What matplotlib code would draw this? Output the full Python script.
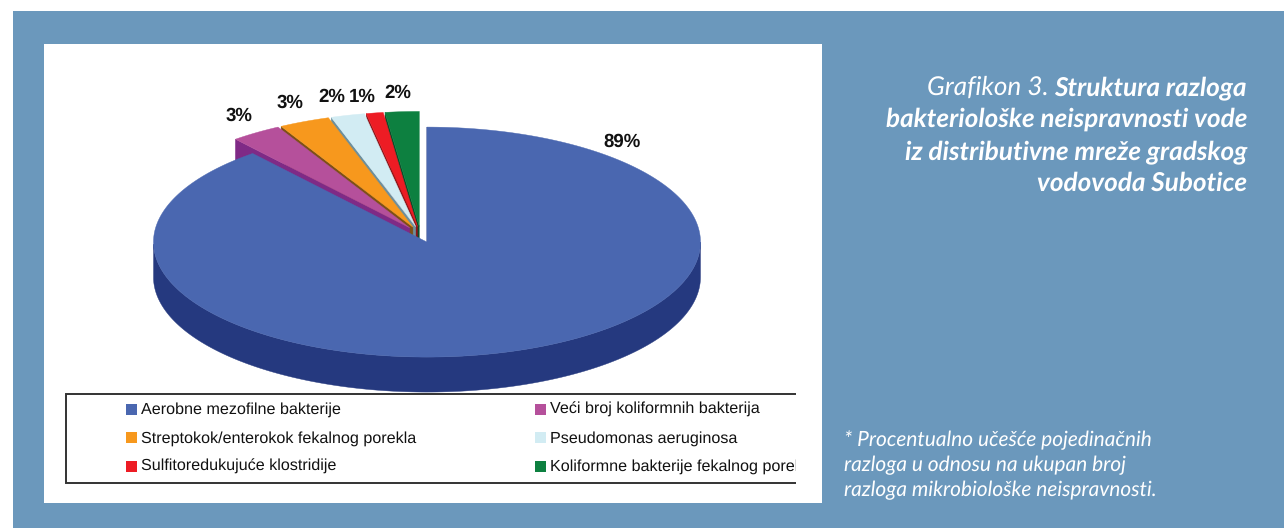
import numpy as np
from matplotlib import pyplot as plt
from matplotlib.patches import Rectangle, Polygon

plt.rcParams['font.family'] = ['Liberation Sans', 'DejaVu Sans']
plt.rcParams['text.hinting'] = 'none'

pct_labels = ['89%', '3%', '3%', '2%', '1%', '2%']
values = [89, 3, 3, 2, 1, 2]
categories = [
    'Aerobne mezofilne bakterije',
    'Veći broj koliformnih bakterija',
    'Streptokok/enterokok fekalnog porekla',
    'Pseudomonas aeruginosa',
    'Sulfitoredukujuće klostridije',
    'Koliformne bakterije fekalnog porekla',
]
top_colors = ['#4a67b0', '#b5509b', '#f7981d', '#d2ecf3', '#ed1c24', '#0d8040']
side_colors = ['#25397f', '#7f2a86', '#7d5017', '#6d8f9c', '#8e1418', '#0a4f2a']

BACKGROUND = '#6b98bc'
cx, cy = 420.5, 234.5
rx, ry = 273.5, 115
depth = 35
explode = 0.07


def rim(center, angles):
    # angles run clockwise from twelve o'clock, y axis points down
    return np.column_stack([center[0] + rx * np.sin(angles), center[1] - ry * np.cos(angles)])


def draw_slice(ax, start, end, top, side):
    mid = (start + end) / 2
    center = (cx + explode * rx * np.sin(mid), cy - explode * ry * np.cos(mid))
    arc = rim(center, np.linspace(start, end, 300))
    shift = np.array([0, depth])

    # cut face along the leading edge, then the outer wall where it faces front
    face = np.array([center, arc[0], arc[0] + shift, np.array(center) + shift])
    ax.add_patch(Polygon(face, closed=True, fc=side, ec=side, lw=0.3))
    front = arc[(np.cos(np.linspace(start, end, 300)) < 0)]
    if len(front):
        wall = np.vstack([front, front[::-1] + shift])
        ax.add_patch(Polygon(wall, closed=True, fc=side, ec=side, lw=0.3))
    ax.add_patch(Polygon(np.vstack([center, arc]), closed=True, fc=top, ec=top, lw=0.3))


def draw_pie(ax):
    edges = np.radians(np.cumsum([0] + values) * 3.6)
    # back slices first so the nearer ones cover their walls
    for i in reversed(range(1, len(values))):
        draw_slice(ax, edges[i], edges[i + 1], top_colors[i], side_colors[i])
    draw_slice(ax, edges[0], edges[1], top_colors[0], side_colors[0])


def draw_legend(ax):
    clip = Rectangle((60, 390), 736, 96, transform=ax.transData)
    ax.plot([796, 66, 66, 796], [393.5, 393.5, 482.5, 482.5], color='#333333', lw=1.4,
            solid_joinstyle='miter', solid_capstyle='butt', zorder=5)
    swatch_rows = [409, 437.5, 466]
    text_rows = [414, 443, 471]
    for i, name in enumerate(categories):
        x = 126 if i % 2 == 0 else 535
        y = swatch_rows[i // 2]
        ax.add_patch(Rectangle((x, y - 5.5), 11, 11, fc=top_colors[i], ec='none', zorder=5))
        t = ax.text(x + 15, text_rows[i // 2], name, fontsize=11.6, color='#111111', va='baseline', zorder=5)
        t.set_clip_path(clip)
        t.set_clip_on(True)


fig = plt.figure(figsize=(12.84, 5.28), dpi=100)
ax = fig.add_axes([0, 0, 1, 1])
ax.set_xlim(0, 1284)
ax.set_ylim(528, 0)
ax.axis('off')

ax.add_patch(Rectangle((0, 0), 1284, 528, fc='white', ec='none'))
ax.add_patch(Rectangle((13, 11), 1271, 517, fc=BACKGROUND, ec='none'))
ax.add_patch(Rectangle((44, 44), 778, 459, fc='white', ec='none'))

draw_pie(ax)

label_pos = [(622, 147), (239, 121), (290, 108), (332, 102), (362, 102), (398, 98)]
for lab, (x, y) in zip(pct_labels, label_pos):
    ax.text(x, y, lab, fontsize=13.4, fontweight='bold', color='#111111', ha='center', va='baseline')

draw_legend(ax)

title_font = ['Lato', 'DejaVu Sans']
title_size = 18.8
bold = ax.text(1247, 95, 'Struktura razloga', family=title_font, fontsize=title_size, style='italic',
               fontweight='bold', color='white', ha='right', va='baseline')
# the light lead-in sits directly left of the bold part on the same baseline
bold_left = bold.get_window_extent(fig.canvas.get_renderer()).x0
ax.text(bold_left - 6, 95, 'Grafikon 3.', family=title_font, fontsize=title_size, style='italic',
        color='white', ha='right', va='baseline')
title_lines = ['bakteriološke neispravnosti vode', 'iz distributivne mreže gradskog', 'vodovoda Subotice']
for y, line in zip([127, 159, 191], title_lines):
    ax.text(1247, y, line, family=title_font, fontsize=title_size, style='italic', fontweight='bold',
            color='white', ha='right', va='baseline')

note_lines = ['* Procentualno učešće pojedinačnih', 'razloga u odnosu na ukupan broj',
              'razloga mikrobiološke neispravnosti.']
for y, line in zip([446, 471, 496], note_lines):
    ax.text(844, y, line, family=title_font, fontsize=15, style='italic', color='white',
            ha='left', va='baseline')

fig.savefig('out.png', dpi=100)
